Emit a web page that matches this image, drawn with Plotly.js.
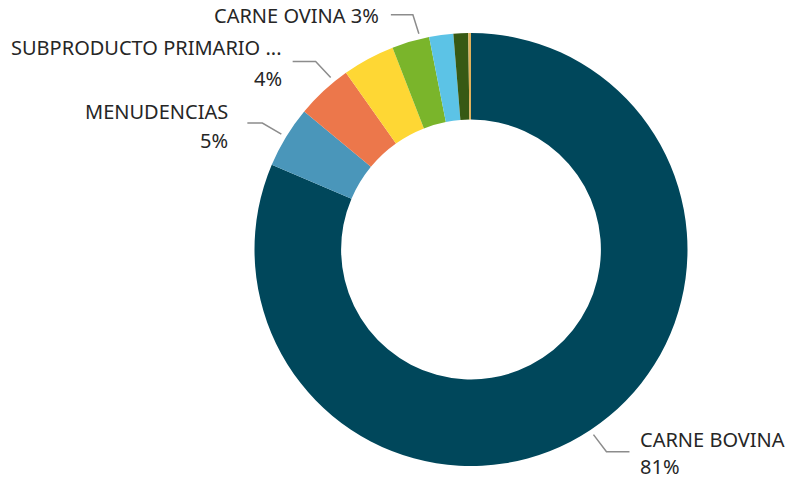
<!DOCTYPE html>
<html>
<head>
<meta charset="utf-8">
<script src="https://cdn.plot.ly/plotly-3.0.1.min.js"></script>
<style>html,body{margin:0;padding:0;background:#fff;}#chart{width:788px;height:483px;}</style>
</head>
<body>
<div id="chart"></div>
<script>
// ---- data ----
const categories = ["CARNE BOVINA", "MENUDENCIAS", "SUBPRODUCTO PRIMARIO ...", "GRASAS", "CARNE OVINA", "CUEROS", "CARNE PORCINA", "OTROS"];
const shares = [81.4, 4.6, 4.2, 3.9, 2.8, 1.8, 1.1, 0.2];
const colors = ["#00475b", "#4a96ba", "#ec774b", "#fed734", "#7ab52b", "#5cc3e6", "#375914", "#e0b15a"];
const labeledSlices = [0, 1, 2, 4];

// ---- geometry (pixels) ----
const W = 788, H = 483;
const cx = 471, cy = 249.5, R = 216.5;

// per-label leader styling: where along the slice the leader starts (fraction), elbow offset, horizontal run, text side
const leaderStyle = {
  0: {frac: 0.5, ex: 13, ey: 17, run: 23, gap: 9, side: "right", twoLine: true, dy1: -12, dy2: 15},
  1: {frac: 0.5, ex: -19, ey: -11, run: 15, gap: 17, side: "left", twoLine: true, dy1: -12, dy2: 17},
  2: {frac: 0.74, ex: -15, ey: -16, run: 23, gap: 9, side: "left", twoLine: true, dy1: -14, dy2: 17},
  4: {frac: 0.76, ex: -6, ey: -19, run: 22, gap: 10, side: "left", twoLine: false, dy1: 1, dy2: 0}
};

const total = shares.reduce((a, b) => a + b, 0);
const cum = [];
let acc = 0;
shares.forEach(v => { cum.push(acc); acc += v; });

const px = x => x / W;
const py = y => 1 - y / H;

const shapes = [];
const annotations = [];
const textFont = {family: "Noto Sans, Open Sans, sans-serif", size: 20, color: "#262626"};

labeledSlices.forEach(i => {
  const s = leaderStyle[i];
  const frac = (cum[i] + shares[i] * s.frac) / total;
  const ang = frac * 2 * Math.PI; // clockwise from top
  const r = R + 5.5;
  const x0 = cx + r * Math.sin(ang);
  const y0 = cy - r * Math.cos(ang);
  const x1 = x0 + s.ex, y1 = y0 + s.ey;
  const x2 = s.side === "right" ? x1 + s.run : x1 - s.run;
  shapes.push({
    type: "path", xref: "paper", yref: "paper",
    path: `M ${px(x0)} ${py(y0)} L ${px(x1)} ${py(y1)} L ${px(x2)} ${py(y1)}`,
    line: {color: "#8c8c8c", width: 1.5}
  });
  const pct = Math.round(shares[i] / total * 100) + "%";
  const tx = s.side === "right" ? x2 + s.gap : x2 - s.gap;
  const xanchor = s.side === "right" ? "left" : "right";
  if (s.twoLine) {
    annotations.push({xref: "paper", yref: "paper", x: px(tx), y: py(y1 + s.dy1), xanchor, yanchor: "middle",
      text: categories[i], showarrow: false, font: textFont});
    annotations.push({xref: "paper", yref: "paper", x: px(tx), y: py(y1 + s.dy2), xanchor, yanchor: "middle",
      text: pct, showarrow: false, font: textFont});
  } else {
    annotations.push({xref: "paper", yref: "paper", x: px(tx), y: py(y1 + s.dy1), xanchor, yanchor: "middle",
      text: categories[i] + " " + pct, showarrow: false, font: textFont});
  }
});

const trace = {
  type: "pie",
  labels: categories,
  values: shares,
  sort: false,
  direction: "clockwise",
  rotation: 0,
  hole: 0.6,
  textinfo: "none",
  hoverinfo: "label+percent",
  marker: {colors: colors, line: {width: 0}},
  domain: {x: [px(cx - R), px(cx + R)], y: [py(cy + R), py(cy - R)]},
  showlegend: false
};

const layout = {
  width: W, height: H,
  margin: {l: 0, r: 0, t: 0, b: 0},
  paper_bgcolor: "#ffffff",
  showlegend: false,
  shapes: shapes,
  annotations: annotations
};

Plotly.newPlot("chart", [trace], layout, {displayModeBar: false, staticPlot: true});
</script>
</body>
</html>
